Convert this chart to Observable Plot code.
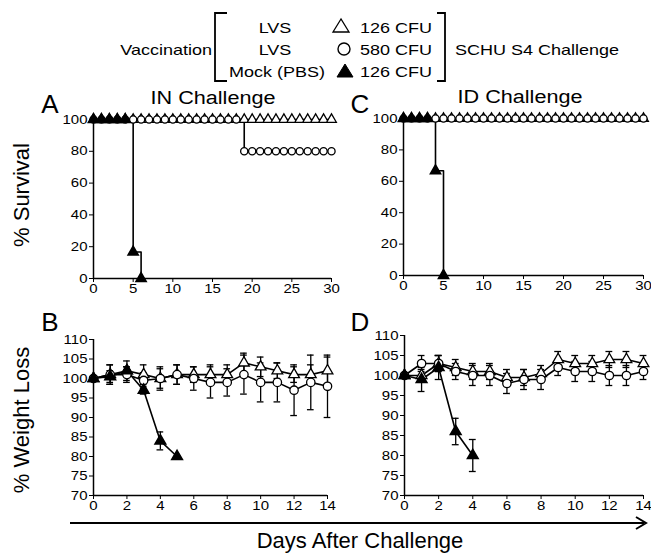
<!DOCTYPE html>
<html><head><meta charset="utf-8">
<script src="https://cdn.jsdelivr.net/npm/d3@7"></script>
<script src="https://cdn.jsdelivr.net/npm/@observablehq/plot@0.6"></script>
<style>
body{margin:0;background:#fff;font-family:"Liberation Sans",Arial,sans-serif;overflow:hidden}
#fig{position:relative;width:651px;height:554px}
.abs{position:absolute;white-space:nowrap;color:#000;line-height:1}
</style></head><body><div id="fig"></div>
<script>
// ---- Survival data (days 0..30) ----
const survDays = d3.range(0, 31);
const survA_lvs126 = survDays.map(() => 100);
const survA_lvs580 = survDays.map(d => d < 19 ? 100 : 80);
const survA_mockDays = [0,1,2,3,4,5,6];
const survA_mock = [100,100,100,100,100,16.7,0];
const survC_lvs126 = survDays.map(() => 100);
const survC_lvs580 = survDays.map(() => 100);
const survC_mockDays = [0,1,2,3,4,5];
const survC_mock = [100,100,100,100,66.7,0];

// ---- Weight data (days 0..14), mean and SD ----
const wDays = d3.range(0, 15);
const wB_lvs126 = [100,101,102,101,100,101,101,101,101,104,103,102,101,101,102];
const wB_lvs126_sd = [0,2.5,2.5,2.5,2.5,2.5,2,2.5,2.5,2.5,2.5,2,2,2.5,3.5];
const wB_lvs580 = [100,101,101,99.5,100,101,100,99,99,101,99,99,97,99,98];
const wB_lvs580_sd = [0,2.5,2,2,3,2.5,3,4,3.5,5,5,5,6.5,7,8];
const wB_mockDays = [0,1,2,3,4,5];
const wB_mock = [100,100.5,102,97,84,80];
const wB_mock_sd = [0,1.5,1,1,2.3,0];
const wD_lvs126 = [100,100,103,102,101,101,99.5,99.5,100.5,104,103,103,104,104,103];
const wD_lvs126_sd = [0,1.5,2,2,2,2,2,2,2,2,2,2,2,2,2];
const wD_lvs580 = [100,103,103,101,100,100,98,99,99,102,101,101,100,100,101];
const wD_lvs580_sd = [0,2,2,2,2.5,2.5,2.5,2.5,2.5,2,2.5,2.5,2.5,2.5,2];
const wD_mockDays = [0,1,2,3,4];
const wD_mock = [100,99,102,86,80];
const wD_mock_sd = [0,3,3,3.3,4];

const survTicksX = [0,5,10,15,20,25,30];
const survTicksY = [0,20,40,60,80,100];
const wTicksX = [0,2,4,6,8,10,12,14];
const wTicksY = [70,75,80,85,90,95,100,105,110];

const SX = 1.2; // horizontal stretch of the reference's lettering

const fig = document.getElementById("fig");
function place(el, left, top){ const w = document.createElement("div"); w.style.position="absolute"; w.style.left=left+"px"; w.style.top=top+"px"; w.appendChild(el); fig.appendChild(w); }
function label(str, x, y, size, anchor="start", extra){
  const s=document.createElement("div"); s.className="abs"; s.textContent=str;
  s.style.left=x+"px"; s.style.top=y+"px"; s.style.fontSize=size+"px";
  const tx = anchor==="end" ? "-100%" : anchor==="middle" ? "-50%" : "0";
  const ox = anchor==="end" ? "100%" : anchor==="middle" ? "50%" : "0%";
  s.style.transformOrigin = ox+" 50%";
  s.style.transform = `translate(${tx},-50%) scaleX(${SX})`;
  if(extra) Object.assign(s.style, extra);
  fig.appendChild(s); return s;
}
function stretchTicks(svg){
  d3.select(svg).selectAll("g[aria-label$='tick label'] text").each(function(){
    const t = d3.select(this); const tr = t.attr("transform");
    if (tr) t.attr("transform", tr + ` scale(${SX},1)`);
    else { const x=+t.attr("x")||0, y=+t.attr("y")||0; t.attr("x",null).attr("y",null).attr("transform",`translate(${x},${y}) scale(${SX},1)`); }
  });
  return svg;
}
function series(xs, ys, sds){ return xs.map((x,i)=>({x, y: ys[i], sd: sds ? sds[i] : 0})); }
const baseStyle = {background:"transparent", fontFamily:"Liberation Sans, Arial, sans-serif", fontSize:"12px", color:"black"};

function survPlot(opts, lvs126, lvs580, mockDays, mock){
  const a = series(survDays, lvs126), b = series(survDays, lvs580), c = series(mockDays, mock);
  const line = (d) => Plot.line(d, {x:"x", y:"y", curve:"step-after", stroke:"black", strokeWidth:1.6});
  return stretchTicks(Plot.plot({
    ...opts, height: 230, style: baseStyle,
    x:{domain:[0,30], ticks: survTicksX}, y:{domain:[0,100], ticks: survTicksY},
    marks:[
      Plot.ruleX([0], {stroke:"black", strokeWidth:1.5}),
      Plot.ruleY([0], {stroke:"black", strokeWidth:1.5}),
      Plot.axisX({ticks: survTicksX, tickSize:4, label:null, fontSize:12.5, tickPadding:2}),
      Plot.axisY({ticks: survTicksY, tickSize:4, label:null, fontSize:12.5, tickPadding:2}),
      line(a), line(b), line(c),
      Plot.dot(a, {x:"x", y:"y", symbol:"triangle", r:3.6, fill:"white", stroke:"black", strokeWidth:1.3}),
      Plot.dot(b, {x:"x", y:"y", symbol:"circle", r:3.6, fill:"white", stroke:"black", strokeWidth:1.3}),
      Plot.dot(c, {x:"x", y:"y", symbol:"triangle", r:3.8, fill:"black", stroke:"black"})
    ]
  }));
}

function weightPlot(opts, t, tsd, c, csd, mDays, m, msd){
  const a = series(wDays, t, tsd), b = series(wDays, c, csd), k = series(mDays, m, msd);
  const err = (d) => [
    Plot.ruleX(d.filter(p=>p.sd>0), {x:"x", y1:p=>p.y-p.sd, y2:p=>p.y+p.sd, stroke:"black", strokeWidth:1.3}),
    Plot.ruleY(d.filter(p=>p.sd>0), {y:p=>p.y+p.sd, x1:p=>p.x-0.2, x2:p=>p.x+0.2, stroke:"black", strokeWidth:1.3}),
    Plot.ruleY(d.filter(p=>p.sd>0), {y:p=>p.y-p.sd, x1:p=>p.x-0.2, x2:p=>p.x+0.2, stroke:"black", strokeWidth:1.3})
  ];
  return stretchTicks(Plot.plot({
    ...opts, height: 230, style: baseStyle,
    x:{domain:[0,14], ticks: wTicksX}, y:{domain:[70,110], ticks: wTicksY},
    marks:[
      Plot.ruleX([0], {stroke:"black", strokeWidth:1.5}),
      Plot.ruleY([70], {stroke:"black", strokeWidth:1.5}),
      Plot.axisX({ticks: wTicksX, tickSize:4, label:null, fontSize:12.5, tickPadding:2}),
      Plot.axisY({ticks: wTicksY, tickSize:4, label:null, fontSize:12.5, tickPadding:2}),
      ...err(a), ...err(b), ...err(k),
      Plot.line(a, {x:"x", y:"y", stroke:"black", strokeWidth:1.6}),
      Plot.line(b, {x:"x", y:"y", stroke:"black", strokeWidth:1.6}),
      Plot.line(k, {x:"x", y:"y", stroke:"black", strokeWidth:1.6}),
      Plot.dot(a, {x:"x", y:"y", symbol:"triangle", r:4, fill:"white", stroke:"black", strokeWidth:1.3}),
      Plot.dot(b, {x:"x", y:"y", symbol:"circle", r:4.2, fill:"white", stroke:"black", strokeWidth:1.3}),
      Plot.dot(k, {x:"x", y:"y", symbol:"triangle", r:4, fill:"black", stroke:"black"})
    ]
  }));
}

place(survPlot({width:350, marginLeft:93, marginRight:19, marginTop:39, marginBottom:32}, survA_lvs126, survA_lvs580, survA_mockDays, survA_mock), 0, 80);
place(survPlot({width:341, marginLeft:93, marginRight:8, marginTop:38, marginBottom:35}, survC_lvs126, survC_lvs580, survC_mockDays, survC_mock), 310, 80);
place(weightPlot({width:350, marginLeft:93, marginRight:23, marginTop:39, marginBottom:35}, wB_lvs126, wB_lvs126_sd, wB_lvs580, wB_lvs580_sd, wB_mockDays, wB_mock, wB_mock_sd), 0, 300);
place(weightPlot({width:341, marginLeft:94, marginRight:8, marginTop:35, marginBottom:35}, wD_lvs126, wD_lvs126_sd, wD_lvs580, wD_lvs580_sd, wD_mockDays, wD_mock, wD_mock_sd), 310, 300);

// Panel titles and letters
label("IN Challenge", 213, 98, 18, "middle");
label("ID Challenge", 520, 97, 18, "middle");
label("A", 50, 104, 26, "middle", {transform:"translate(-50%,-50%)"});
label("C", 360, 104, 26, "middle", {transform:"translate(-50%,-50%)"});
label("B", 50, 322, 26, "middle", {transform:"translate(-50%,-50%)"});
label("D", 360, 322, 26, "middle", {transform:"translate(-50%,-50%)"});

// Y-axis titles (rotated)
label("% Survival", 22, 195, 22, "middle", {transform:"translate(-50%,-50%) rotate(-90deg)"});
label("% Weight Loss", 22, 420, 22, "middle", {transform:"translate(-50%,-50%) rotate(-90deg)"});

// Decorations: arrow, brackets, legend symbols
const NS="http://www.w3.org/2000/svg";
const asvg=document.createElementNS(NS,"svg");
asvg.setAttribute("width","651"); asvg.setAttribute("height","554");
asvg.style.position="absolute"; asvg.style.left="0"; asvg.style.top="0"; asvg.style.pointerEvents="none";
asvg.innerHTML = `<line x1="70" y1="523" x2="644" y2="523" stroke="black" stroke-width="2"/>
<polyline points="636,517 646,523 636,529" fill="none" stroke="black" stroke-width="2"/>
<path d="M227,13 H215 V81 H227" fill="none" stroke="black" stroke-width="1.8"/>
<path d="M437,13 H445 V81 H437" fill="none" stroke="black" stroke-width="1.8"/>
<polygon points="341,19 333,32 349,32" fill="white" stroke="black" stroke-width="1.3"/>
<circle cx="344" cy="49" r="6" fill="white" stroke="black" stroke-width="1.4"/>
<polygon points="345,64 337,77 353,77" fill="black" stroke="black"/>`;
fig.appendChild(asvg);
label("Days After Challenge", 360, 541, 22, "middle", {transform:"translate(-50%,-50%)"});

// Legend text
label("Vaccination", 212, 49, 15, "end");
label("LVS", 275, 27, 15, "middle");
label("LVS", 275, 49, 15, "middle");
label("Mock (PBS)", 277, 71, 15, "middle");
label("126 CFU", 360, 27, 15, "start");
label("580 CFU", 360, 49, 15, "start");
label("126 CFU", 360, 71, 15, "start");
label("SCHU S4 Challenge", 455, 49, 15, "start");
</script></body></html>
